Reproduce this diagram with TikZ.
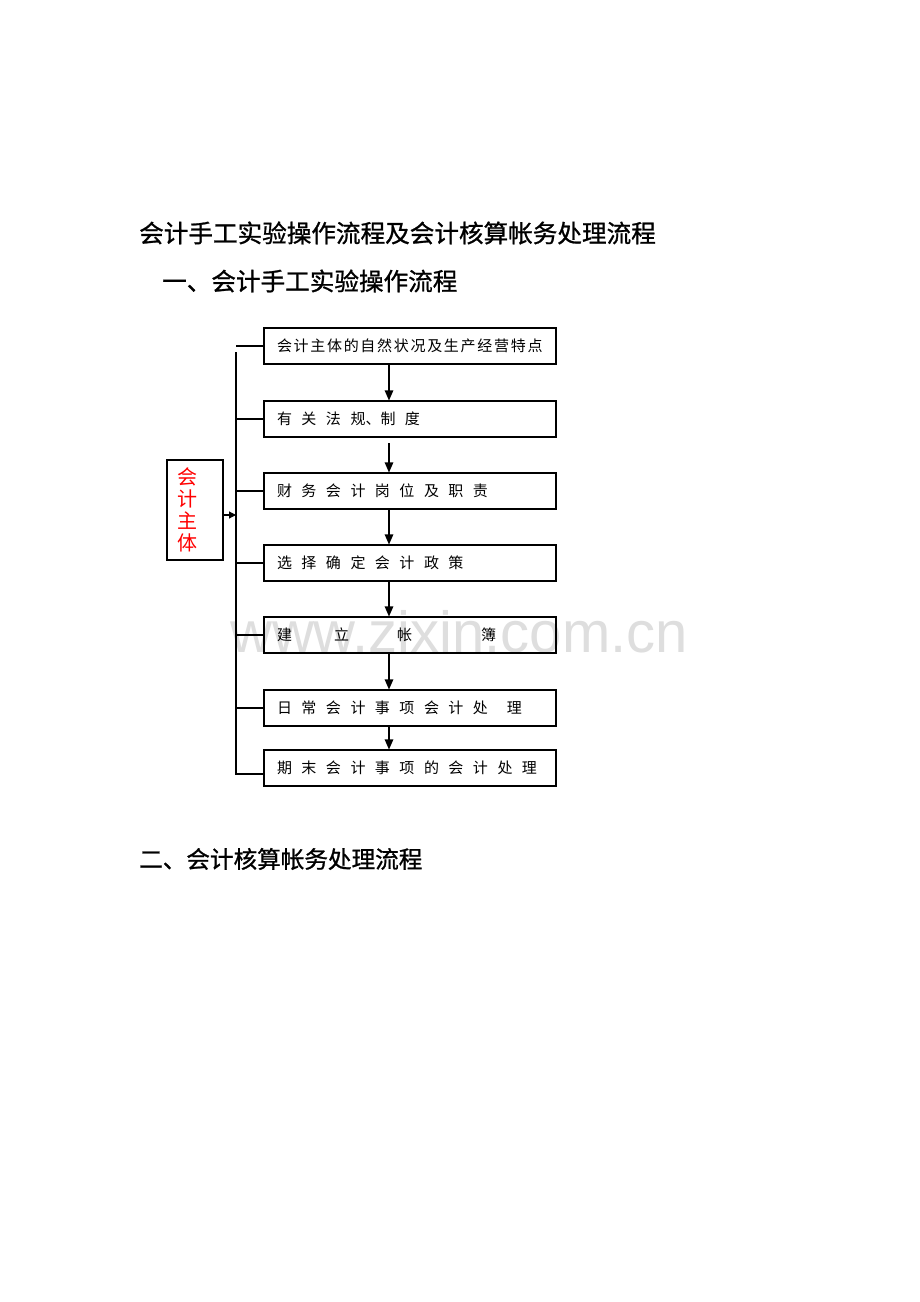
\documentclass[tikz,border=0pt]{standalone}
\usepackage{fontspec}
\setmainfont{Noto Sans CJK SC}
\newfontfamily\headfont[FakeBold=1]{Noto Sans CJK SC}
\newfontfamily\wmfont{Liberation Sans}
\usetikzlibrary{arrows.meta}
\newcommand\hs{\hspace{9.5pt}}
\newcommand\hn{\hspace{1.7pt}}
\begin{document}
\begin{tikzpicture}[x=1pt,y=-1pt,
  box/.style={draw,line width=1.1pt,minimum width=292pt,minimum height=36pt,
    inner xsep=13pt,inner ysep=0pt,text width=266pt,align=left,
    font=\fontsize{15}{16}\selectfont},
  link/.style={line width=1.1pt},
  arr/.style={line width=1.1pt,-{Triangle[length=10pt,width=8.5pt]}},
  sarr/.style={line width=1.1pt,-{Triangle[length=7pt,width=7pt]}},
  heading/.style={anchor=west,inner sep=0pt,font=\headfont\fontsize{24.6}{25}\selectfont},
  redbox/.style={draw,line width=1.1pt,minimum width=56pt,minimum height=100pt,inner sep=0pt},
  redtxt/.style={text=red,align=center,inner sep=0pt,font=\fontsize{20}{22}\selectfont},
  wm/.style={anchor=base west,inner sep=0pt,text=black!13,font=\wmfont\fontsize{58}{60}\selectfont}]
\useasboundingbox (0,0) rectangle (920,1302);
\fill[white] (0,0) rectangle (920,1302);
% watermark
\node[wm] (wmark) at (230,652) {www.zixin.com.cn};
% headings
\node[heading] (t0) at (139,233) {会计手工实验操作流程及会计核算帐务处理流程};
\node[heading] (t1) at (162,281) {一、会计手工实验操作流程};
\node[heading,font=\headfont\fontsize{23.6}{25}\selectfont] (t2) at (139,859) {二、会计核算帐务处理流程};
% boxes
\node[box] (b1) at (410,346) {会\hn 计\hn 主\hn 体\hn 的\hn 自\hn 然\hn 状\hn 况\hn 及\hn 生\hn 产\hn 经\hn 营\hn 特\hn 点};
\node[box] (b2) at (410,419) {有\hs 关\hs 法\hs 规、制\hs 度};
\node[box] (b3) at (410,491) {财\hs 务\hs 会\hs 计\hs 岗\hs 位\hs 及\hs 职\hs 责};
\node[box] (b4) at (410,563) {选\hs 择\hs 确\hs 定\hs 会\hs 计\hs 政\hs 策};
\node[box] (b5) at (410,635) {建\hspace{42pt}立\hspace{48pt}帐\hspace{69pt}簿};
\node[box] (b6) at (410,708) {日\hs 常\hs 会\hs 计\hs 事\hs 项\hs 会\hs 计\hs 处\hspace{19pt}理};
\node[box] (b7) at (410,768) {期\hs 末\hs 会\hs 计\hs 事\hs 项\hs 的\hs 会\hs 计\hs 处\hs 理};
% vertical arrows
\coordinate (ax) at (389,0);
\coordinate (a2s) at (389,443);
\draw[arr] (b1.south -| ax) -- (b2.north -| ax);
\draw[arr] (a2s) -- (b3.north -| ax);
\draw[arr] (b3.south -| ax) -- (b4.north -| ax);
\draw[arr] (b4.south -| ax) -- (b5.north -| ax);
\draw[arr] (b5.south -| ax) -- (b6.north -| ax);
\draw[arr] (b6.south -| ax) -- (b7.north -| ax);
% bracket
\coordinate (brt) at (236,352);
\coordinate (brb) at (236,774);
\coordinate (br1) at (236,346);
\coordinate (br7) at (264,774);
\coordinate (brm) at (236,515);
\draw[link] (brt) -- (brb) -- (br7);
\draw[link] (br1) -- (br1 -| b1.west);
\draw[link] (b2.west -| brt) -- (b2.west);
\draw[link] (b3.west -| brt) -- (b3.west);
\draw[link] (b4.west -| brt) -- (b4.west);
\draw[link] (b5.west -| brt) -- (b5.west);
\draw[link] (b6.west -| brt) -- (b6.west);
% subject box
\node[redbox] (zt) at (195,510) {};
\node[redtxt] (ztl) at (187.5,510) {会\\计\\主\\体};
\draw[sarr] ([yshift=-5pt]zt.east) -- (brm);
\end{tikzpicture}
\end{document}
